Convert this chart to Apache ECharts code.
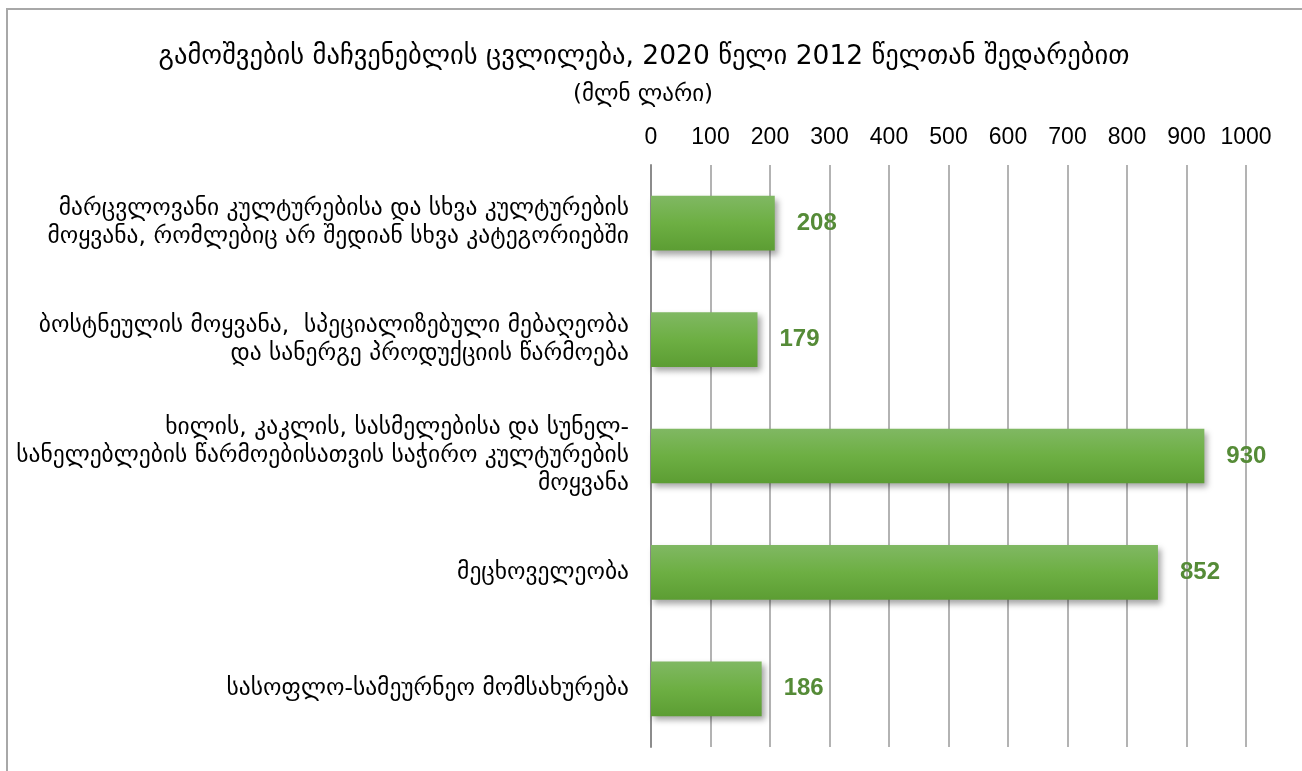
<!DOCTYPE html>
<html><head><meta charset="utf-8">
<script src="https://cdn.jsdelivr.net/npm/echarts@6/dist/echarts.min.js"></script>
<style>html,body{margin:0;padding:0;background:#fff;}#c{width:1302px;height:771px;}</style>
</head><body><div id="c"></div>
<script>
const categories = [
  "მარცვლოვანი კულტურებისა და სხვა კულტურების\nმოყვანა, რომლებიც არ შედიან სხვა კატეგორიებში",
  "ბოსტნეულის მოყვანა,  სპეციალიზებული მებაღეობა\nდა სანერგე პროდუქციის წარმოება",
  "ხილის, კაკლის, სასმელებისა და სუნელ-\nსანელებლების წარმოებისათვის საჭირო კულტურების\nმოყვანა",
  "მეცხოველეობა",
  "სასოფლო-სამეურნეო მომსახურება"
];
const values = [208, 179, 930, 852, 186];
const xTicks = {min: 0, max: 1000, interval: 100};
const titleText = "გამოშვების მაჩვენებლის ცვლილება, 2020 წელი 2012 წელთან შედარებით";
const subtitleText = "(მლნ ლარი)";

const chart = echarts.init(document.getElementById('c'), null, {renderer: 'canvas'});
chart.setOption({
  animation: false,
  backgroundColor: '#fff',
  title: [
    {text: titleText, left: 639, top: 39, textAlign: 'center',
     textStyle: {fontFamily: 'DejaVu Sans', fontWeight: 'normal', fontSize: 26.5, color: '#000'}},
    {text: subtitleText, left: 638, top: 79, textAlign: 'center',
     textStyle: {fontFamily: 'DejaVu Sans', fontWeight: 'normal', fontSize: 23, color: '#000'}}
  ],
  graphic: [
    {type: 'polyline', shape: {points: [[7, 800], [7, 9], [1310, 9]]},
     style: {stroke: '#a8a8a8', lineWidth: 2, fill: null}, silent: true}
  ],
  grid: {left: 651, top: 165, width: 595, height: 582, containLabel: false},
  xAxis: {
    type: 'value', position: 'top', min: xTicks.min, max: xTicks.max, interval: xTicks.interval,
    axisLine: {show: false}, axisTick: {show: false},
    axisLabel: {margin: 16, fontFamily: 'Liberation Sans', fontSize: 23, color: '#000',
      formatter: function (v) { return String(v); }},
    splitLine: {show: true, lineStyle: {color: '#b3b3b3', width: 2}}
  },
  yAxis: {
    type: 'category', data: categories, inverse: true,
    axisLine: {show: true, lineStyle: {color: '#8c8c8c', width: 2}},
    axisTick: {show: false},
    axisLabel: {margin: 22, fontFamily: 'DejaVu Sans', fontSize: 23.5, lineHeight: 28, color: '#000', align: 'right',
      padding: [4, 0, 0, 0]}
  },
  series: [{
    type: 'bar', data: values, barCategoryGap: '53%',
    itemStyle: {
      color: new echarts.graphic.LinearGradient(0, 0, 0, 1, [
        {offset: 0, color: '#80b863'}, {offset: 0.5, color: '#6daf43'}, {offset: 1, color: '#5c9d33'}
      ]),
      shadowColor: 'rgba(0,0,0,0.35)', shadowBlur: 6, shadowOffsetX: 3, shadowOffsetY: 4
    },
    label: {show: true, position: 'right', distance: 22,
      fontFamily: 'Liberation Sans', fontWeight: 'bold', fontSize: 24, color: '#558b37'}
  }]
});
</script></body></html>
